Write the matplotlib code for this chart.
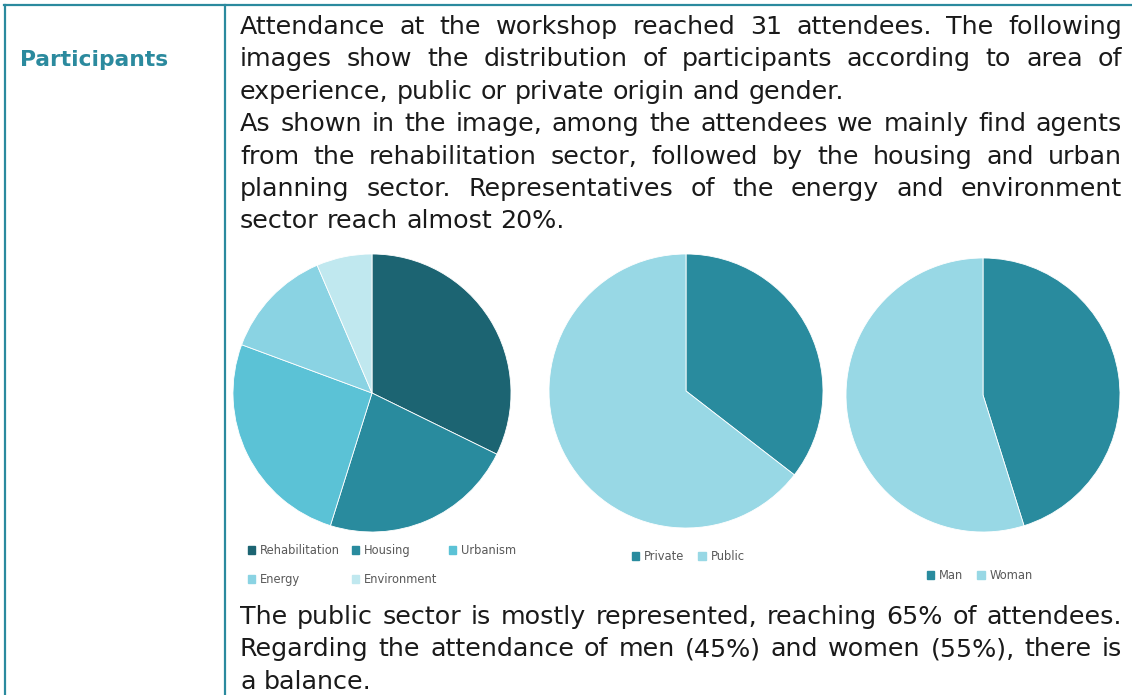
import numpy as np
import matplotlib
matplotlib.use("Agg")
import matplotlib.pyplot as plt
from matplotlib.lines import Line2D
from matplotlib.patches import Patch

W, H = 1132, 695

# pie data (31 attendees)
areas = ["Rehabilitation", "Housing", "Urbanism", "Energy", "Environment"]
area_counts = [10, 7, 8, 4, 2]
area_colors = ["#1C6472", "#298B9E", "#5BC2D6", "#8AD3E3", "#C0E8EF"]

origin = ["Private", "Public"]
origin_counts = [11, 20]
origin_colors = ["#298B9E", "#98D8E5"]

gender = ["Man", "Woman"]
gender_counts = [14, 17]
gender_colors = ["#298B9E", "#98D8E5"]

top_lines = [
    "Attendance at the workshop reached 31 attendees. The following",
    "images show the distribution of participants according to area of",
    "experience, public or private origin and gender.",
    "As shown in the image, among the attendees we mainly find agents",
    "from the rehabilitation sector, followed by the housing and urban",
    "planning sector. Representatives of the energy and environment",
    "sector reach almost 20%.",
]
top_justify = [True, True, False, True, True, True, False]
bottom_lines = [
    "The public sector is mostly represented, reaching 65% of attendees.",
    "Regarding the attendance of men (45%) and women (55%), there is",
    "a balance.",
]
bottom_justify = [True, True, False]

teal = "#2B8A9E"
fig = plt.figure(figsize=(W / 100, H / 100), dpi=100)


def fx(px):
    return px / W


def fy(py):
    return 1 - py / H


# table borders
for xs, ys in [([4, W], [5, 5]), ([5, 5], [5, H]), ([225, 225], [5, H])]:
    fig.add_artist(Line2D([fx(x) for x in xs], [fy(y) for y in ys],
                          transform=fig.transFigure, color=teal, lw=1.6))

fig.canvas.draw()
r = fig.canvas.get_renderer()

# title cell
t = fig.text(fx(20), fy(66), "Participants", fontsize=16, fontweight="bold",
             color=teal, va="baseline", ha="left")
w = t.get_window_extent(r).width
t.set_fontsize(16 * 148 / w)

body_fs = 18.3
probe = fig.text(0, 0, "x x", fontsize=body_fs)
probe2 = fig.text(0, 0, "xx", fontsize=body_fs)
space_w = probe.get_window_extent(r).width - probe2.get_window_extent(r).width
probe.remove()
probe2.remove()


def put_line(line, y, justify, x0=240, x1=1122):
    words = line.split(" ")
    txts = [fig.text(0, fy(y), wd, fontsize=body_fs, color="#1a1a1a",
                     va="baseline", ha="left") for wd in words]
    widths = [tt.get_window_extent(r).width for tt in txts]
    if justify and len(words) > 1:
        gap = (x1 - x0 - sum(widths)) / (len(words) - 1)
    else:
        gap = space_w
    x = x0
    for tt, ww in zip(txts, widths):
        tt.set_x(fx(x))
        x += ww + gap


for i, (ln, j) in enumerate(zip(top_lines, top_justify)):
    put_line(ln, 34 + 32.4 * i, j)
for i, (ln, j) in enumerate(zip(bottom_lines, bottom_justify)):
    put_line(ln, 624 + 32.4 * i, j)


def pie_axes(cx, cy, rad):
    ax = fig.add_axes([fx(cx - rad), fy(cy + rad), 2 * rad / W, 2 * rad / H])
    return ax


def finish(ax):
    ax.set_xlim(-1, 1)
    ax.set_ylim(-1, 1)
    ax.axis("off")


leg_kw = dict(frameon=False, fontsize=8.3, handlelength=0.65, handleheight=0.65,
              handletextpad=0.4, borderpad=0, borderaxespad=0,
              labelcolor="#595959", bbox_transform=fig.transFigure)

ax1 = pie_axes(372, 393, 139)
ax1.pie(area_counts, colors=area_colors, startangle=90, counterclock=False,
        radius=1, wedgeprops=dict(edgecolor="white", linewidth=0.6))
finish(ax1)
order = [0, 3, 1, 4, 2]  # legend is filled row by row in the original
ax1.legend([Patch(color=area_colors[k]) for k in order], [areas[k] for k in order],
           ncol=3, loc="upper left", bbox_to_anchor=(fx(248), fy(544)),
           columnspacing=1.0, labelspacing=1.42, **leg_kw)

ax2 = pie_axes(686, 391, 137)
ax2.pie(origin_counts, colors=origin_colors, startangle=90, counterclock=False,
        radius=1, wedgeprops=dict(edgecolor="white", linewidth=0.6))
finish(ax2)
ax2.legend([Patch(color=c) for c in origin_colors], origin, ncol=2,
           loc="upper left", bbox_to_anchor=(fx(632), fy(550)),
           columnspacing=1.2, **leg_kw)

ax3 = pie_axes(983, 395, 137)
ax3.pie(gender_counts, colors=gender_colors, startangle=90, counterclock=False,
        radius=1, wedgeprops=dict(edgecolor="white", linewidth=0.6))
finish(ax3)
ax3.legend([Patch(color=c) for c in gender_colors], gender, ncol=2,
           loc="upper left", bbox_to_anchor=(fx(927), fy(569)),
           columnspacing=1.2, **leg_kw)

fig.savefig("out.png", dpi=100)
